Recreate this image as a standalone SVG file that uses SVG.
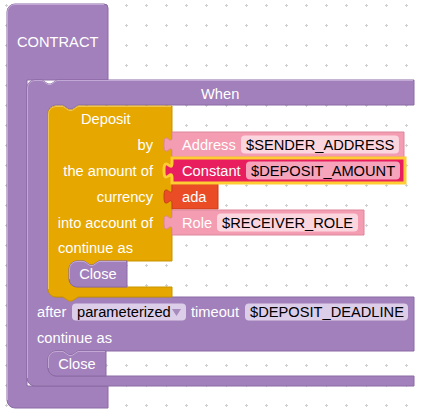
<svg xmlns="http://www.w3.org/2000/svg" width="422" height="414" viewBox="0 0 422 414">
<defs>
<pattern id="grid" x="0" y="0" width="20" height="20" patternUnits="userSpaceOnUse">
<path d="M5,5.5h3M6.5,4v3" stroke="#cfcfcf" stroke-width="1" fill="none"/>
</pattern>
</defs>
<style>
text{font-family:"Liberation Sans",Arial,sans-serif;font-size:14.67px;fill:#fff}
.f{fill:#000}
.end{text-anchor:end}
.mid{text-anchor:middle}
.purple{fill:#a280bb;stroke:#8c6ba4;stroke-width:1}
.hl{fill:none;stroke:#c2a8d4;stroke-width:1}
.hg{fill:none;stroke:#f0c650;stroke-width:1}
.gold{fill:#e6a700;stroke:#c99300;stroke-width:1}
.pink{fill:#f49cb2;stroke:#dc879d;stroke-width:1}
.crim{fill:#e91e5f;stroke:#fc3;stroke-width:3}
.ada{fill:#ea4d25;stroke:#c93d1a;stroke-width:1}
.fp{fill:#fcd6df}
.fc{fill:#f6a3bc}
.fv{fill:#dccde8}
</style>
<rect width="422" height="414" fill="#fff"/>
<rect width="422" height="414" fill="url(#grid)"/>
<g id="contract">
<path class="purple" d="M7,12 a8,8 0 0 1 8,-8 H104 a4,4 0 0 1 4,4 V80 H27 V386 H108 V408 H15 a8,8 0 0 1 -8,-8 Z"/>
<path class="hl" d="M7.5,400 V12 a7.5,7.5 0 0 1 7.5,-7.5 H104"/>
<text x="17" y="47">CONTRACT</text>
</g>
<g id="when">
<path class="purple" d="M27,88 a8,8 0 0 1 8,-8 H42 l6,4 h3 l6,-4 H414 V105 H78 l-6,4 h-3 l-6,-4 H56 a8,8 0 0 0 -8,8 V289 a8,8 0 0 0 8,8 H414 V351 H78 l-6,4 h-3 l-6,-4 H56 a8,8 0 0 0 -8,8 V368 a8,8 0 0 0 8,8 H414 V386 H35 a8,8 0 0 1 -8,-8 Z"/>
<path class="hl" d="M27.5,378 V88 a7.5,7.5 0 0 1 7.5,-7.5 H42 l6,4 h3 l6,-4 H413"/>
<text x="201" y="98.5">When</text>
<text x="37" y="317">after</text>
<rect class="fv" x="72" y="303.5" width="114" height="17" rx="4"/>
<text class="f" x="77" y="317">parameterized</text>
<polygon points="172,309 181,309 176.5,316" fill="#a78bbd"/>
<text x="191" y="317">timeout</text>
<rect class="fv" x="245" y="303.5" width="163" height="17" rx="4"/>
<text class="f" x="250" y="317">$DEPOSIT_DEADLINE</text>
<text x="37" y="343">continue as</text>
</g>
<g id="deposit">
<path class="gold" d="M48,114 a8,8 0 0 1 8,-8 H63 l6,4 h3 l6,-4 H172 V261 H99 l-6,4 h-3 l-6,-4 H77 a8,8 0 0 0 -8,8 V279 a8,8 0 0 0 8,8 H172 V297 H78 l-6,4 h-3 l-6,-4 H56 a8,8 0 0 1 -8,-8 Z"/>
<path class="hg" d="M48.5,289 V114 a7.5,7.5 0 0 1 7.5,-7.5 H63 l6,4 h3 l6,-4 H171"/>
<text x="81" y="124">Deposit</text>
<text class="end" x="153" y="149.5">by</text>
<text class="end" x="153" y="175.5">the amount of</text>
<text class="end" x="153" y="201.5">currency</text>
<text class="end" x="153" y="227.5">into account of</text>
<text x="58" y="253">continue as</text>
</g>
<g id="close1">
<path class="purple" d="M69,269 a8,8 0 0 1 8,-8 H84 l6,4 h3 l6,-4 H127 V287 H77 a8,8 0 0 1 -8,-8 Z"/>
<path class="hl" d="M69.5,279 V269 a7.5,7.5 0 0 1 7.5,-7.5 H84 l6,4 h3 l6,-4 H126"/>
<text class="mid" x="98" y="279">Close</text>
</g>
<g id="address">
<path class="pink" d="M172,132 H404 V157 H172 V152 c0,-10 -8,8 -8,-7.5 s8,2.5 8,-7.5 Z"/>
<text x="182" y="149.5">Address</text>
<rect class="fp" x="241" y="135.5" width="158" height="18" rx="4"/>
<text class="f" x="246" y="149.5">$SENDER_ADDRESS</text>
</g>
<g id="ada">
<path class="ada" d="M172,184 H218 V209 H172 V204 c0,-10 -8,8 -8,-7.5 s8,2.5 8,-7.5 Z"/>
<text x="182" y="201.5">ada</text>
</g>
<g id="role">
<path class="pink" d="M172,210 H364 V235 H172 V230 c0,-10 -8,8 -8,-7.5 s8,2.5 8,-7.5 Z"/>
<text x="182" y="227.5">Role</text>
<rect class="fp" x="217" y="213.5" width="141" height="18" rx="4"/>
<text class="f" x="222" y="227.5">$RECEIVER_ROLE</text>
</g>
<g id="constant">
<path class="crim" d="M172,158 H405 V183 H172 V178 c0,-10 -8,8 -8,-7.5 s8,2.5 8,-7.5 Z"/>
<text x="182" y="175.5">Constant</text>
<rect class="fc" x="246" y="161.5" width="154" height="18" rx="4"/>
<text class="f" x="251" y="175.5">$DEPOSIT_AMOUNT</text>
</g>
<g id="close2">
<path class="purple" d="M48,359 a8,8 0 0 1 8,-8 H63 l6,4 h3 l6,-4 H106 V376 H56 a8,8 0 0 1 -8,-8 Z"/>
<path class="hl" d="M48.5,368 V359 a7.5,7.5 0 0 1 7.5,-7.5 H63 l6,4 h3 l6,-4 H105"/>
<text class="mid" x="77" y="368.5">Close</text>
</g>
<g id="connectors"></g>
</svg>
